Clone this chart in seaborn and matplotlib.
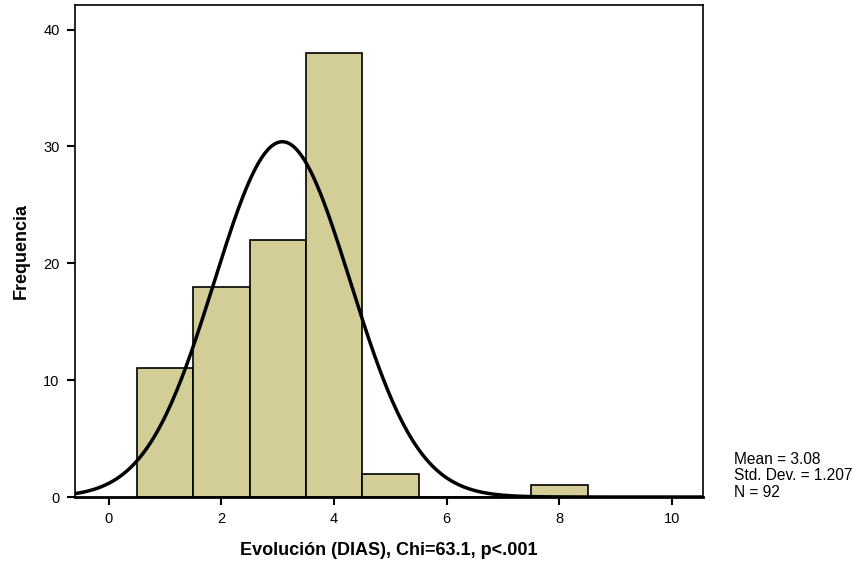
import numpy as np
import pandas as pd
import matplotlib
matplotlib.use("Agg")
import matplotlib.pyplot as plt
import seaborn as sns

# bin centres and counts
dias = [1, 2, 3, 4, 5, 8]
frecuencia = [11, 18, 22, 38, 2, 1]
media = 3.08
desv = 1.207
n = 92

sns.set_style("white")
plt.rcParams['font.family'] = ['Liberation Sans', 'DejaVu Sans']
plt.rcParams['text.color'] = 'black'
plt.rcParams['axes.labelcolor'] = 'black'

fig = plt.figure(figsize=(8.64, 5.69), dpi=100)
ax = fig.add_axes([0.0868, 0.1265, 0.727, 0.8645])

df = pd.DataFrame({"dias": dias, "frecuencia": frecuencia})
sns.histplot(data=df, x="dias", weights="frecuencia", binwidth=1, binrange=(0.5, 8.5),
             color="#D3CE98", alpha=1, edgecolor="black", linewidth=1.2, ax=ax)

# normal curve scaled to counts (bin width = 1)
xs = np.linspace(-0.6, 10.6, 400)
ys = n / (desv * np.sqrt(2 * np.pi)) * np.exp(-0.5 * ((xs - media) / desv) ** 2)
sns.lineplot(x=xs, y=ys, color="black", linewidth=2.5, ax=ax)

ax.set_xlim(-0.6, 10.55)
ax.set_ylim(0, 42.1)
ax.set_xticks([0, 2, 4, 6, 8, 10])
ax.set_yticks([0, 10, 20, 30, 40])
ax.tick_params(axis="both", direction="out", length=6, width=1.5, labelsize=10.5,
               bottom=True, left=True, colors="black", pad=5)
for s in ax.spines.values():
    s.set_color("black")
    s.set_linewidth(1.2)
ax.spines["bottom"].set_linewidth(2)

ax.set_xlabel("Evolución (DIAS), Chi=63.1, p<.001", fontsize=13, fontweight="bold", labelpad=11)
ax.set_ylabel("Frequencia", fontsize=13, fontweight="bold", labelpad=10)

fig.text(0.850, 0.122, "Mean = 3.08\nStd. Dev. = 1.207\nN = 92", fontsize=11.2,
         ha="left", va="bottom", linespacing=1.1)

fig.savefig("out.png", dpi=100)
